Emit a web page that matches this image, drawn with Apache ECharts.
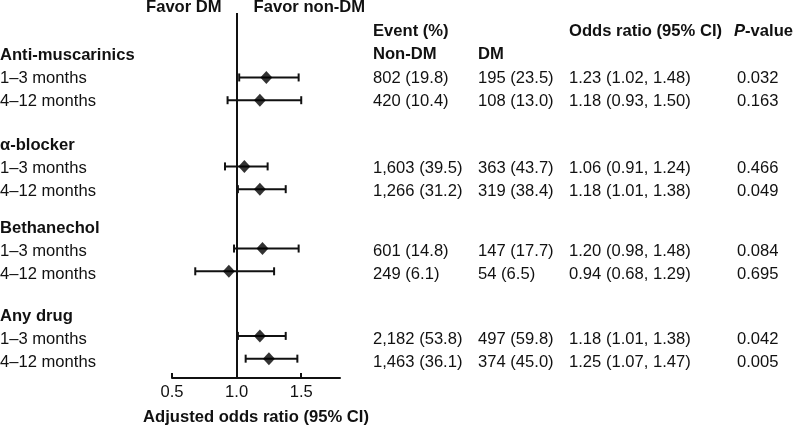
<!DOCTYPE html>
<html>
<head>
<meta charset="utf-8">
<script src="https://cdn.jsdelivr.net/npm/echarts@6/dist/echarts.min.js"></script>
<style>
html,body{margin:0;padding:0;background:#fff;}
#chart{width:797px;height:431px;}
</style>
</head>
<body>
<div id="chart"></div>
<script>
// ---------------- data ----------------
const groups = ['Anti-muscarinics', 'α-blocker', 'Bethanechol', 'Any drug'];
const periods = ['1–3 months', '4–12 months'];
const nonDmCount = [802, 420, 1603, 1266, 601, 249, 2182, 1463];
const nonDmPct = [19.8, 10.4, 39.5, 31.2, 14.8, 6.1, 53.8, 36.1];
const dmCount = [195, 108, 363, 319, 147, 54, 497, 374];
const dmPct = [23.5, 13.0, 43.7, 38.4, 17.7, 6.5, 59.8, 45.0];
const oddsRatio = [1.23, 1.18, 1.06, 1.18, 1.20, 0.94, 1.18, 1.25];
const ciLow = [1.02, 0.93, 0.91, 1.01, 0.98, 0.68, 1.01, 1.07];
const ciHigh = [1.48, 1.50, 1.24, 1.38, 1.48, 1.29, 1.38, 1.47];
const pValues = [0.032, 0.163, 0.466, 0.049, 0.084, 0.695, 0.042, 0.005];
const xTicks = [0.5, 1.0, 1.5];

// ---------------- layout ----------------
const FONT = '"Liberation Sans", Arial, Helvetica, sans-serif';
const FS = 16.6;
const COLOR = '#111';
const Y_MIN = -0.813, Y_MAX = 15.23;
const GROUP_SLOTS = [1.02, 4.93, 8.54, 12.38];
function headerSlot(g) { return GROUP_SLOTS[g]; }
function rowSlot(i) { const g = Math.floor(i / 2), r = i % 2; return headerSlot(g) + 1 + r; }

const fmt = n => n.toLocaleString('en-US');

// text items per grid
const leftTexts = [];
groups.forEach((g, gi) => {
  leftTexts.push({x: 0, y: headerSlot(gi), text: g, bold: true});
  periods.forEach((p, pi) => leftTexts.push({x: 0, y: rowSlot(gi * 2 + pi), text: p}));
});

const COL_NON = 0, COL_DM = 105, COL_OR = 196, COL_PH = 361, COL_P = 364;
const tableTexts = [
  {x: COL_NON, y: 0, text: 'Event (%)', bold: true},
  {x: COL_OR, y: 0, text: 'Odds ratio (95% CI)', bold: true},
  {x: COL_PH, y: 0, text: '{i|P}{b|-value}', rich: true},
  {x: COL_NON, y: 1, text: 'Non-DM', bold: true},
  {x: COL_DM, y: 1, text: 'DM', bold: true}
];
oddsRatio.forEach((v, i) => {
  const y = rowSlot(i);
  tableTexts.push({x: COL_NON, y, text: fmt(nonDmCount[i]) + ' (' + nonDmPct[i].toFixed(1) + ')'});
  tableTexts.push({x: COL_DM, y, text: fmt(dmCount[i]) + ' (' + dmPct[i].toFixed(1) + ')'});
  tableTexts.push({x: COL_OR, y, text: v.toFixed(2) + ' (' + ciLow[i].toFixed(2) + ', ' + ciHigh[i].toFixed(2) + ')'});
  tableTexts.push({x: COL_P, y, text: pValues[i].toFixed(3)});
});

function textSeries(axisIdx, items) {
  return {
    type: 'custom',
    xAxisIndex: axisIdx, yAxisIndex: axisIdx,
    clip: false, silent: true,
    data: items.map(it => [it.x, it.y]),
    renderItem: function (params, api) {
      const it = items[params.dataIndex];
      const pt = api.coord([api.value(0), api.value(1)]);
      const style = {
        text: it.text, x: pt[0] + (it.dx || 0), y: pt[1],
        fill: COLOR, fontFamily: FONT, fontSize: FS,
        fontWeight: it.bold ? 'bold' : 'normal',
        align: it.align || 'left', verticalAlign: 'middle'
      };
      if (it.rich) {
        style.rich = {
          i: {fontStyle: 'italic', fontWeight: 'bold', fontSize: FS, fontFamily: FONT, fill: COLOR},
          b: {fontWeight: 'bold', fontSize: FS, fontFamily: FONT, fill: COLOR}
        };
      }
      return {type: 'text', style: style};
    }
  };
}

const favorTexts = [
  {x: 1.0, y: -1.07, text: 'Favor DM', bold: true, align: 'right', dx: -15},
  {x: 1.0, y: -1.07, text: 'Favor non-DM', bold: true, align: 'left', dx: 17}
];

const ciData = oddsRatio.map((v, i) => [ciLow[i], ciHigh[i], rowSlot(i)]);
const pointData = oddsRatio.map((v, i) => [v, rowSlot(i)]);

const yAxisBase = {type: 'value', inverse: true, min: Y_MIN, max: Y_MAX, show: false};

const option = {
  animation: false,
  backgroundColor: '#fff',
  grid: [
    {left: 172, top: 13, width: 168, height: 369},
    {left: 0, top: 13, width: 160, height: 369},
    {left: 373, top: 13, width: 420, height: 369}
  ],
  xAxis: [
    {
      type: 'value', gridIndex: 0, min: 0.5, max: 1.8, interval: 0.5,
      axisLine: {show: true, onZero: false, lineStyle: {color: '#111', width: 2}},
      axisTick: {show: true, inside: true, length: 5, lineStyle: {color: '#111', width: 2}, customValues: xTicks},
      axisLabel: {show: true, customValues: xTicks, margin: 6, color: COLOR, fontSize: FS, fontFamily: FONT,
                  formatter: v => Number(v).toFixed(1)},
      splitLine: {show: false},
      name: 'Adjusted odds ratio (95% CI)', nameLocation: 'middle', nameGap: 31,
      nameTextStyle: {color: COLOR, fontSize: FS, fontWeight: 'bold', fontFamily: FONT}
    },
    {type: 'value', gridIndex: 1, min: 0, max: 1, show: false},
    {type: 'value', gridIndex: 2, min: 0, max: 420, show: false}
  ],
  yAxis: [
    Object.assign({gridIndex: 0}, yAxisBase),
    Object.assign({gridIndex: 1}, yAxisBase),
    Object.assign({gridIndex: 2}, yAxisBase)
  ],
  series: [
    {
      type: 'custom', xAxisIndex: 0, yAxisIndex: 0, silent: true,
      data: ciData,
      encode: {x: [0, 1], y: 2},
      renderItem: function (params, api) {
        const y = api.value(2);
        const a = api.coord([api.value(0), y]);
        const b = api.coord([api.value(1), y]);
        const h = 4;
        const st = {stroke: '#111', lineWidth: 2};
        return {
          type: 'group',
          children: [
            {type: 'line', shape: {x1: a[0], y1: a[1], x2: b[0], y2: b[1]}, style: st},
            {type: 'line', shape: {x1: a[0], y1: a[1] - h, x2: a[0], y2: a[1] + h}, style: st},
            {type: 'line', shape: {x1: b[0], y1: b[1] - h, x2: b[0], y2: b[1] + h}, style: st}
          ]
        };
      }
    },
    {
      type: 'scatter', xAxisIndex: 0, yAxisIndex: 0, silent: true,
      symbol: 'diamond', symbolSize: [12, 13],
      itemStyle: {color: '#000'},
      data: pointData,
      z: 5,
      markLine: {
        silent: true, symbol: ['none', 'none'], label: {show: false},
        lineStyle: {color: '#111', width: 2, type: 'solid'},
        data: [{xAxis: 1.0}]
      }
    },
    textSeries(0, favorTexts),
    textSeries(1, leftTexts),
    textSeries(2, tableTexts)
  ]
};

const chart = echarts.init(document.getElementById('chart'), null, {renderer: 'canvas'});
chart.setOption(option);
</script>
</body>
</html>
